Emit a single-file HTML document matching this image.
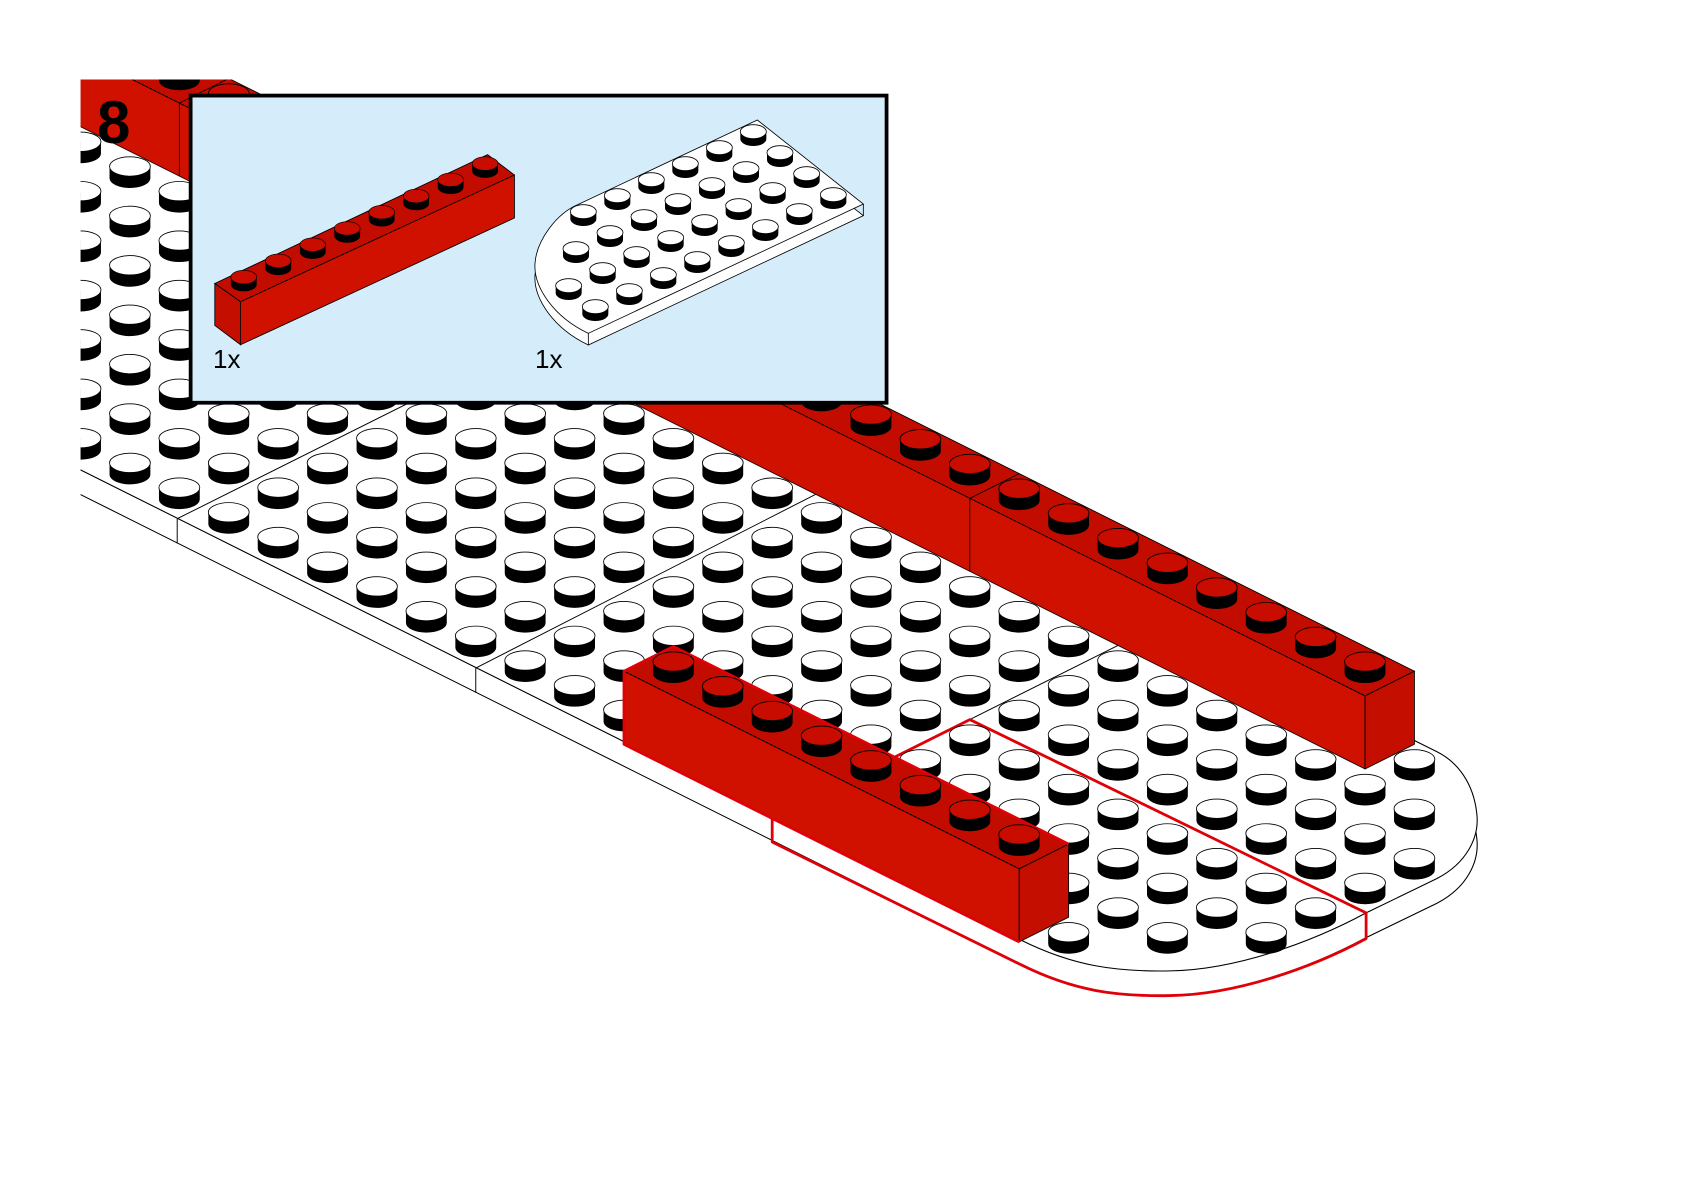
<!DOCTYPE html>
<html><head><meta charset="utf-8"><style>
html,body{margin:0;padding:0;background:#fff;}
svg{display:block;}
</style></head><body>
<svg id="s" width="1684" height="1192" viewBox="0 0 1684 1192" xmlns="http://www.w3.org/2000/svg">
<defs><clipPath id="clip"><rect x="75" y="74" width="1600" height="1100"/></clipPath></defs>
<g transform="scale(1.07398)">
  <g clip-path="url(#clip)">
    <g id="board"></g>
    <g id="backbrick"></g>
    <g id="studs1"></g>
    <g id="frontbrick"></g>
    <g id="studs2"></g>
  </g>
  <rect x="177.5" y="89" width="648" height="286" fill="#d5ecfb" stroke="#000" stroke-width="3.5"/>
  <g id="insetbrick"></g>
</g>
<g transform="translate(520,110) scale(0.33333)" id="insetplate"></g>
<text x="97" y="143" font-family="Liberation Sans, sans-serif" font-weight="bold" font-size="60" fill="#000">8</text>
<text x="213" y="368" font-family="Liberation Sans, sans-serif" font-size="26" fill="#000">1x</text>
<text x="535" y="368" font-family="Liberation Sans, sans-serif" font-size="26" fill="#000">1x</text>
</svg>
<script>
(function(){
function P(a,b){return [995+46*(a+b), 877+23*(a-b)];}
function T(a,b){var p=P(a,b);return [p[0],p[1]-9];}
function stud(x,y,tp,rx,ry,h,sw){
  return '<path d="M'+(x-rx)+','+y+' V'+(y+h)+' A'+rx+','+ry+' 0 0 0 '+(x+rx)+','+(y+h)+' V'+y+' Z" fill="#000"/>'+
    '<ellipse cx="'+x+'" cy="'+y+'" rx="'+rx+'" ry="'+ry+'" fill="'+tp+'" stroke="#000" stroke-width="'+sw+'"/>';
}
function pts(arr){return arr.map(function(p){return p[0]+','+p[1];}).join(' ');}
var H=68;
var RED_TOP='#c20c00', RED_FRONT='#d01100', RED_END='#c40e00';

var boardTop='M40,420 L950,875 C1000,900 1040,905 1090,904 C1150,903 1220,878 1272,850 L1338,818 C1365,804 1378,780 1375,757 C1372,730 1358,710 1338,700 L40,54 Z';
var b='';
b+='<path d="'+boardTop+'" transform="translate(0,23)" fill="#fff" stroke="#000" stroke-width="1"/>';
b+='<path d="'+boardTop+'" fill="#fff" stroke="#000" stroke-width="1"/>';
b+='<line x1="165" y1="483" x2="485" y2="323" stroke="#000" stroke-width="0.9"/>';
b+='<line x1="165" y1="483" x2="165" y2="506" stroke="#000" stroke-width="0.9"/>';
b+='<line x1="443" y1="622" x2="760" y2="460" stroke="#000" stroke-width="0.9"/>';
b+='<line x1="443" y1="622" x2="443" y2="645" stroke="#000" stroke-width="0.9"/>';
b+='<line x1="903" y1="670" x2="1041" y2="601" stroke="#000" stroke-width="0.9"/>';
b+='<line x1="1272" y1="850" x2="1272" y2="874" stroke="#000" stroke-width="0.9"/>';
b+='<path d="M719,762 L719,784 L950,898 C1000,923 1040,928 1090,927 C1150,926 1220,902 1272,874 L1272,850 L903,670 L719,762" fill="none" stroke="#e00008" stroke-width="2.6" stroke-linejoin="round"/>';
document.getElementById('board').innerHTML=b;

function brick(bb,a1,a2){
  var s='';
  var f1=P(a1,bb-0.5),f2=P(a2,bb-0.5),k2=P(a2,bb+0.5),k1=P(a1,bb+0.5);
  function up(p){return [p[0],p[1]-H];}
  s+='<polygon points="'+pts([up(f1),up(f2),up(k2),up(k1)])+'" fill="'+RED_TOP+'" stroke="#000" stroke-width="0.8"/>';
  s+='<polygon points="'+pts([f1,f2,up(f2),up(f1)])+'" fill="'+RED_FRONT+'" stroke="#000" stroke-width="0.8"/>';
  s+='<polygon points="'+pts([f2,k2,up(k2),up(f2)])+'" fill="'+RED_END+'" stroke="#000" stroke-width="0.8"/>';
  return s;
}
var bk=brick(7,-40,-0.5);
[-8.5,-16.5,-24.5,-32.5].forEach(function(a){
  var f=P(a,6.5),k=P(a,7.5);
  bk+='<line x1="'+f[0]+'" y1="'+f[1]+'" x2="'+f[0]+'" y2="'+(f[1]-H)+'" stroke="#000" stroke-width="0.8"/>';
  bk+='<line x1="'+f[0]+'" y1="'+(f[1]-H)+'" x2="'+k[0]+'" y2="'+(k[1]-H)+'" stroke="#000" stroke-width="0.8"/>';
});
for(var a=-40;a<=-1;a++){var t=T(a,7);if(t[0]<40)continue;bk+=stud(t[0],t[1]-H,'#c80c00',19,9,11,0.8);}
document.getElementById('backbrick').innerHTML=bk;

var list=[];
for(var bb=0;bb<=7;bb++){for(var a=-44;a<=2;a++){
  var ok=a<=0||(a==1&&bb>=1&&bb<=6)||(a==2&&bb>=2&&bb<=5);
  if(!ok)continue;
  if(bb==7&&a<=-1)continue;
  if(bb==0&&a>=-8&&a<=-1)continue;
  var t=T(a,bb);
  if(t[0]<40||t[1]<40)continue;
  list.push([a-bb,t[0],t[1]]);
}}
list.sort(function(x,y){return x[0]-y[0];});
var s1='',s2='';
list.forEach(function(e){var st=stud(e[1],e[2],'#fff',19,9,11,0.8);if(e[0]>=0)s2+=st;else s1+=st;});
document.getElementById('studs1').innerHTML=s1;
document.getElementById('studs2').innerHTML=s2;

var fb=brick(0,-8.5,-0.5);
var c1=P(-8.5,-0.5),c2=P(-0.5,-0.5),c4=P(-8.5,0.5),c3=P(-0.5,0.5);
fb+='<path d="M'+c2[0]+','+c2[1]+' L'+c1[0]+','+c1[1]+' L'+c1[0]+','+(c1[1]-H)+' L'+c4[0]+','+(c4[1]-H)+' L'+c3[0]+','+(c3[1]-H)+'" fill="none" stroke="#e00008" stroke-width="2.6" stroke-linejoin="round"/>';
for(var a=-8;a<=-1;a++){var t=T(a,0);fb+=stud(t[0],t[1]-H,'#c80c00',19,9,11,0.8);}
document.getElementById('frontbrick').innerHTML=fb;

var ib='';
ib+='<polygon points="200,264 454,144 479,163 224,281" fill="'+RED_TOP+'" stroke="#000" stroke-width="0.8"/>';
ib+='<polygon points="224,281 479,163 479,203 224,321" fill="'+RED_FRONT+'" stroke="#000" stroke-width="0.8"/>';
ib+='<polygon points="200,264 224,281 224,321 200,303" fill="'+RED_END+'" stroke="#000" stroke-width="0.8"/>';
for(var i=0;i<8;i++){var x=227+i*32.1,y=258-i*15.1;ib+=stud(x,y,'#c80c00',12,6.3,7,0.6);}
document.getElementById('insetbrick').innerHTML=ib;

var ip='';
var plateTop='M712,30 L1030,282 L205,670 C100,620 40,530 45,460 C50,390 110,310 175,283 Z';
ip+='<path d="'+plateTop+'" transform="translate(0,35)" fill="#fff" stroke="#000" stroke-width="2.5"/>';
ip+='<path d="'+plateTop+'" fill="#fff" stroke="#000" stroke-width="2.5"/>';
ip+='<line x1="205" y1="670" x2="205" y2="705" stroke="#000" stroke-width="2.5"/>';
ip+='<line x1="1030" y1="282" x2="1030" y2="317" stroke="#000" stroke-width="2.5"/>';
var ist=[];
var mins={0:0,1:-1,2:-2,3:-2};
for(var j=0;j<=3;j++){for(var i=mins[j];i<=5;i++){
  var x=700-(5-i)*102+j*80, y=65+(5-i)*48+j*63;
  ist.push([j-i,x,y]);
}}
ist.sort(function(p,q){return p[2]-q[2];});
ist.forEach(function(e){ip+=stud(e[1],e[2],'#fff',39,21,22,2.4);});
document.getElementById('insetplate').innerHTML=ip;
})();
</script>
</body></html>
